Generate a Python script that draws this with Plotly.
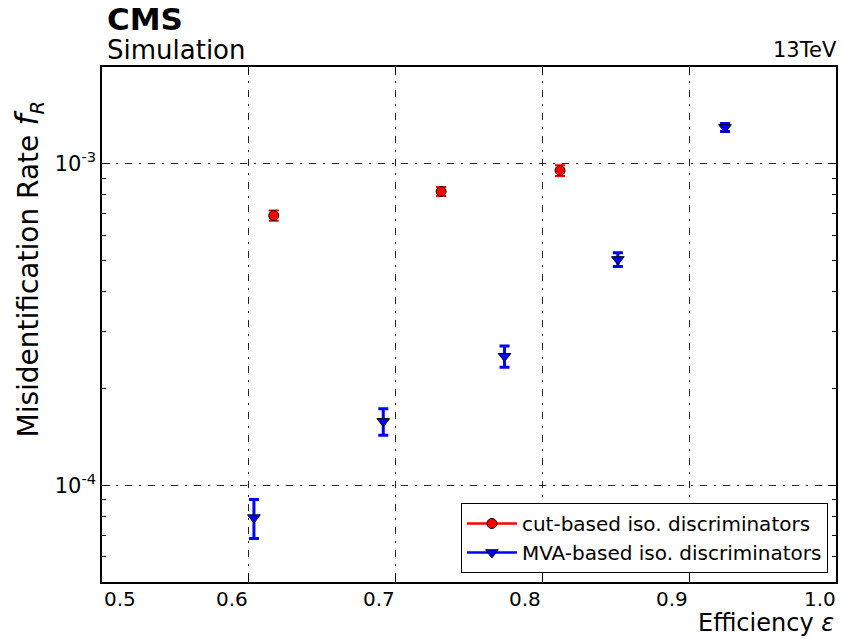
import plotly.graph_objects as go

# Cut-based isolation working points
cut_eff = [0.617, 0.731, 0.812]
cut_rate = [6.90e-4, 8.20e-4, 9.53e-4]
cut_err = [2.5e-5, 2.6e-5, 3.7e-5]

# MVA-based isolation working points
mva_eff = [0.6035, 0.6916, 0.7742, 0.8514, 0.9244]
mva_rate = [7.93e-5, 1.58e-4, 2.52e-4, 5.04e-4, 1.297e-3]
mva_err = [1.1e-5, 1.5e-5, 1.9e-5, 2.5e-5, 3.8e-5]

x_ticks = [0.5, 0.6, 0.7, 0.8, 0.9, 1.0]
x_ticklabels = ["0.5", "0.6", "0.7", "0.8", "0.9", "1.0"]
y_ticks = [1e-4, 1e-3]
y_ticklabels = ["10<sup>-4</sup>", "10<sup>-3</sup>"]
y_minor = [5e-5, 6e-5, 7e-5, 8e-5, 9e-5,
           2e-4, 3e-4, 4e-4, 5e-4, 6e-4, 7e-4, 8e-4, 9e-4, 2e-3]

names = ["cut-based iso. discriminators", "MVA-based iso. discriminators"]

FONT = "DejaVu Sans"
GRID_DASH = "7px,7px,2px,7px"

fig = go.Figure()

fig.add_trace(go.Scatter(
    x=cut_eff, y=cut_rate, mode="markers", showlegend=False,
    marker=dict(symbol="circle", size=10, color="#ff0000",
                line=dict(color="black", width=1)),
    error_y=dict(type="data", array=cut_err, color="#ff0000",
                 thickness=2, width=5),
))
fig.add_trace(go.Scatter(
    x=mva_eff, y=mva_rate, mode="markers", showlegend=False,
    marker=dict(symbol="triangle-down", size=11, color="#0000ff",
                line=dict(color="black", width=1)),
    error_y=dict(type="data", array=mva_err, color="#0000ff",
                 thickness=3, width=5),
))

# legend entries
fig.add_trace(go.Scatter(
    x=[None], y=[None], mode="lines+markers", name=names[0],
    line=dict(color="#ff0000", width=2.5),
    marker=dict(symbol="circle", size=10, color="#ff0000",
                line=dict(color="black", width=1)),
))
fig.add_trace(go.Scatter(
    x=[None], y=[None], mode="lines+markers", name=names[1],
    line=dict(color="#0000ff", width=2.5),
    marker=dict(symbol="triangle-down", size=11, color="#0000ff",
                line=dict(color="black", width=1)),
))

annotations = []
for v, t in zip(x_ticks, x_ticklabels):
    if v == x_ticks[0]:
        anchor, shift = "left", 0
    elif v == x_ticks[-1]:
        anchor, shift = "right", 2
    else:
        anchor, shift = "center", -17
    annotations.append(dict(
        x=v, y=-0.033, xref="x", yref="paper", text=t, showarrow=False,
        xanchor=anchor, yanchor="middle", xshift=shift,
        font=dict(family=FONT, size=20, color="black")))

annotations += [
    dict(x=0.004, y=1.093, xref="paper", yref="paper", text="<b>CMS</b>",
         showarrow=False, xanchor="left", yanchor="middle",
         font=dict(family=FONT, size=31, color="black")),
    dict(x=0.004, y=1.033, xref="paper", yref="paper", text="Simulation",
         showarrow=False, xanchor="left", yanchor="middle",
         font=dict(family=FONT, size=26, color="black")),
    dict(x=1.0, y=1.033, xref="paper", yref="paper", text="13TeV",
         showarrow=False, xanchor="right", yanchor="middle", xshift=3,
         font=dict(family=FONT, size=21, color="black")),
    dict(x=-0.1, y=0.608, xref="paper", yref="paper",
         text=("Misidentification Rate "
               "<span style='font-size:32px'><i>f</i></span>"
               "<sub><i>R</i></sub>"),
         showarrow=False, textangle=-90, xanchor="center", yanchor="middle",
         font=dict(family=FONT, size=28, color="black")),
    dict(x=1.0, y=-0.08, xref="paper", yref="paper",
         text="Efficiency <i>\u03b5</i>",
         showarrow=False, xanchor="right", yanchor="middle",
         font=dict(family=FONT, size=24, color="black")),
]

fig.update_layout(
    width=845, height=639,
    margin=dict(l=102, r=7, t=67, b=57),
    paper_bgcolor="white", plot_bgcolor="white",
    font=dict(family=FONT, size=20, color="black"),
    annotations=annotations,
    legend=dict(
        x=0.989, y=0.0175, xanchor="right", yanchor="bottom",
        bgcolor="white", bordercolor="black", borderwidth=1,
        font=dict(family=FONT, size=20, color="black"),
        itemwidth=50, tracegroupgap=0,
    ),
)

fig.update_xaxes(
    range=[0.5, 1.0], tickvals=x_ticks[1:-1], showticklabels=False,
    ticks="inside", ticklen=8, tickwidth=1, tickcolor="black",
    showline=True, linecolor="black", linewidth=1.5, mirror="ticks",
    showgrid=True, gridcolor="#222222", gridwidth=1, griddash=GRID_DASH,
    zeroline=False,
)
fig.update_yaxes(
    type="log", range=[-4.30103, -2.69897],
    tickmode="array", tickvals=y_ticks, ticktext=y_ticklabels,
    ticks="inside", ticklen=8, tickwidth=1, tickcolor="black",
    tickfont=dict(family=FONT, size=21, color="black"),
    showline=True, linecolor="black", linewidth=1.5, mirror="ticks",
    showgrid=True, gridcolor="#222222", gridwidth=1, griddash=GRID_DASH,
    zeroline=False,
    minor=dict(tickmode="array", tickvals=y_minor, ticks="inside",
               ticklen=4, tickcolor="black", showgrid=False),
)

fig.write_html("out.html")
